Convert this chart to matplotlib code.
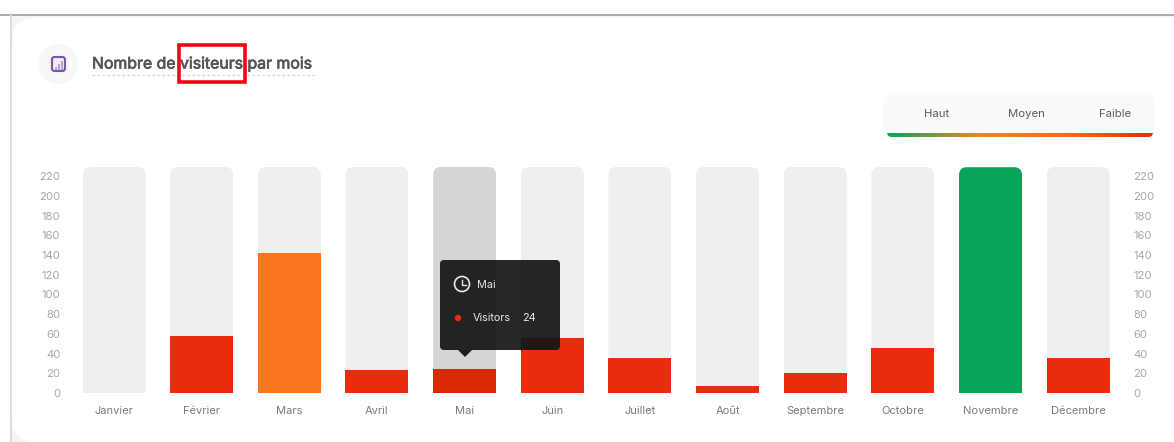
# monthly visitors chart, dashboard card style
import numpy as np
import matplotlib
matplotlib.use('Agg')
import matplotlib.pyplot as plt
import matplotlib.patheffects as pe
from matplotlib.patches import FancyBboxPatch, Circle, Polygon, Rectangle
from matplotlib.colors import LinearSegmentedColormap
from matplotlib.transforms import IdentityTransform

plt.rcParams['font.family'] = ['Inter', 'DejaVu Sans']

W, H = 1174, 442

months = ['Janvier', 'Février', 'Mars', 'Avril', 'Mai', 'Juin', 'Juillet',
          'Août', 'Septembre', 'Octobre', 'Novembre', 'Décembre']
visitors = [0, 58, 142, 23, 24, 56, 36, 7, 20, 46, 229, 36]
bar_colors = ['#e92c0c', '#e92c0c', '#f97520', '#e92c0c', '#d92a04', '#e92c0c',
              '#e92c0c', '#e92c0c', '#e92c0c', '#e92c0c', '#0aa35a', '#e92c0c']
back_colors = ['#efefef', '#efefef', '#efefef', '#efefef', '#d5d5d5', '#efefef',
               '#efefef', '#efefef', '#efefef', '#efefef', '#efefef', '#efefef']
y_ticks = list(range(0, 221, 20))
legend_labels = ['Haut', 'Moyen', 'Faible']

fig = plt.figure(figsize=(W / 100, H / 100), dpi=100, facecolor='white')


def px_axes(zorder):
    # axes in image pixels, y going down
    a = fig.add_axes([0, 0, 1, 1], zorder=zorder)
    a.set_xlim(0, W)
    a.set_ylim(H, 0)
    a.axis('off')
    a.patch.set_alpha(0)
    return a


# card behind everything
bg = px_axes(0)
bg.add_patch(Rectangle((10, 14), W, H, fc='#f5f5f5', ec='none'))
bg.plot([0, W], [14.5, 14.5], color='#a9a9a9', lw=1.4)
bg.plot([10.5, 10.5], [14, H], color='#d8d8d8', lw=1.2)
bg.add_patch(FancyBboxPatch((34, 40), W, 380, boxstyle='round,pad=22,rounding_size=24',
                            fc='white', ec='none'))

# title and icon
bg.add_patch(Circle((58, 64), 20, fc='#f7f7f8', ec='none'))
bg.add_patch(FancyBboxPatch((53, 58), 11, 12, boxstyle='round,pad=1,rounding_size=2.5',
                            fc='#efe9f5', ec='#7d54a8', lw=1.5))
bg.bar([55.5, 58.5, 61.5], [3, 6, 9], width=2, bottom=[70 - 3, 70 - 6, 70 - 9],
       color='#b9a2d3', zorder=3)
bg.text(92, 64, 'Nombre de visiteurs par mois', fontsize=11.4, color='#565656',
        va='center', ha='left',
        path_effects=[pe.withStroke(linewidth=0.5, foreground='#565656')])
bg.plot([92, 314], [75, 75], color='#d0d0d0', lw=0.9, ls=(0, (2, 2)))

# legend box with the gradient strip
bg.add_patch(FancyBboxPatch((895, 105), 248, 20, boxstyle='round,pad=12,rounding_size=12',
                            fc='#fafafa', ec='none'))
for lab, xp in zip(legend_labels, [937, 1026, 1115]):
    bg.text(xp, 114, lab, fontsize=8.2, color='#5c5c5c', ha='center', va='center')
cmap = LinearSegmentedColormap.from_list('level', ['#0aa35a', '#e08a2a', '#f07020', '#e92c0c'])
strip = bg.imshow(np.linspace(0, 1, 256).reshape(1, -1), cmap=cmap, aspect='auto',
                  extent=(887, 1153, 137, 133.8), zorder=3)
strip.set_clip_path(FancyBboxPatch((891, 129), 258, 4, boxstyle='round,pad=4,rounding_size=5',
                                   transform=bg.transData))
bg.set_xlim(0, W)
bg.set_ylim(H, 0)

# chart: 0 sits at y=393 px, bar tops at y=167 px
left, right = 70.2, 1122.0
bottom, top = 393, 167
ax = fig.add_axes([left / W, 1 - bottom / H, (right - left) / W, (bottom - top) / H], zorder=1)
ax.patch.set_alpha(0)
x = np.arange(len(months))
ymax = (bottom - top) / 0.986
bar_w = 63 / 87.65
back = ax.bar(x, [ymax] * len(months), width=bar_w, color=back_colors, zorder=1)
front = ax.bar(x, visitors, width=bar_w, color=bar_colors, zorder=2)
ax.set_xlim(-0.5, len(months) - 0.5)
ax.set_ylim(0, ymax)
ax.set_xticks(x)
ax.set_xticklabels(months)
ax.set_yticks(y_ticks)
ax.tick_params(axis='x', length=0, pad=9, labelsize=8, labelcolor='#7a7a7a')
ax.tick_params(axis='y', length=0, pad=7, labelsize=8.2, labelcolor='#a8a8a8')
ax2 = ax.twinx()
ax2.set_ylim(0, ymax)
ax2.set_yticks(y_ticks)
ax2.tick_params(axis='y', length=0, pad=8, labelsize=8.2, labelcolor='#a8a8a8')
for a in (ax, ax2):
    for s in a.spines.values():
        s.set_visible(False)

# round the top corners of the full height columns only, the small bars stay square
fig.canvas.draw()
full_height = list(back) + [b for b in front if b.get_height() >= ymax - 1]
for b in full_height:
    e = b.get_window_extent()
    clip = FancyBboxPatch((e.x0 + 8, e.y0 - 30), e.width - 16, e.height + 22,
                          boxstyle='round,pad=8,rounding_size=8',
                          transform=IdentityTransform())
    b.set_clip_path(clip)

# tooltip over the Mai column
tip = px_axes(2)
tip.add_patch(FancyBboxPatch((443, 263), 114, 84, boxstyle='round,pad=3,rounding_size=4',
                             fc='#141414', ec='none', alpha=0.92))
tip.add_patch(Polygon([[458, 350], [472, 350], [465, 357]], fc='#1f1f1f', ec='none'))
tip.add_patch(Circle((462, 284), 7.5, fc='none', ec='#e8e8e8', lw=1.2))
tip.plot([462, 462, 466], [280, 285, 285], color='#e8e8e8', lw=1)
tip.add_patch(Circle((458, 318), 3.2, fc='#e92c0c', ec='none'))
tip.text(477, 285, 'Mai', fontsize=7.8, color='#e6e6e6', va='center')
tip.text(473, 318, 'Visitors', fontsize=7.8, color='#e6e6e6', va='center')
tip.text(522, 318, str(visitors[months.index('Mai')]), fontsize=7.8, color='#e6e6e6', va='center')

# red highlight box round the word
tip.add_patch(Rectangle((179, 45), 66, 37, fc='none', ec='#ee0a12', lw=2.6))

fig.savefig('out.png', dpi=100)
